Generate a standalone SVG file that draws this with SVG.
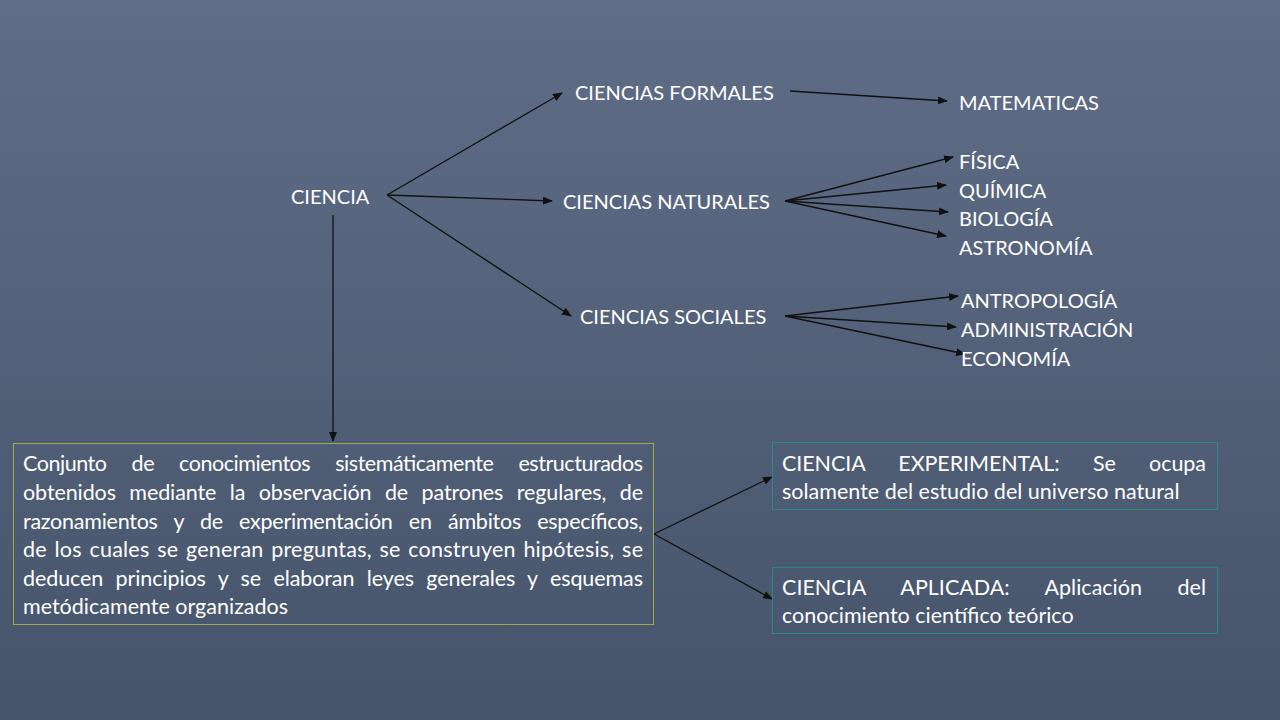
<svg xmlns="http://www.w3.org/2000/svg" width="1280" height="720" viewBox="0 0 1280 720">
<defs>
<linearGradient id="bg" x1="0" y1="0" x2="0" y2="1"><stop offset="0" stop-color="#5f6e86"/><stop offset="1" stop-color="#45536b"/></linearGradient>
<marker id="ah" markerWidth="10" markerHeight="8" refX="9" refY="4" orient="auto" markerUnits="userSpaceOnUse"><path d="M0,0 L10,4 L0,8 z" fill="#111"/></marker>
<style>
text{font-family:"Lato","Liberation Sans",sans-serif;font-size:20px;fill:#fff}
.b{font-size:21.5px}
.c line{stroke:#111;stroke-width:1.3;marker-end:url(#ah)}
</style>
</defs>
<rect width="1280" height="720" fill="url(#bg)"/>
<g class="c" id="connectors">
<line x1="387" y1="195" x2="562" y2="93"/>
<line x1="387" y1="195" x2="552" y2="201"/>
<line x1="387" y1="195" x2="571" y2="316"/>
<line x1="333" y1="215" x2="333" y2="441"/>
<line x1="790" y1="91" x2="947" y2="101"/>
<line x1="785" y1="201" x2="953" y2="157"/>
<line x1="785" y1="201" x2="946" y2="185"/>
<line x1="785" y1="201" x2="948" y2="212"/>
<line x1="785" y1="201" x2="946" y2="236"/>
<line x1="785" y1="316" x2="958" y2="296"/>
<line x1="785" y1="316" x2="956" y2="327"/>
<line x1="785" y1="316" x2="965" y2="354"/>
<line x1="654" y1="534" x2="772" y2="477"/>
<line x1="654" y1="534" x2="772" y2="599"/>
</g>
<g id="ciencia"><text x="291" y="204">CIENCIA</text></g>
<g id="formales"><text x="575" y="100">CIENCIAS FORMALES</text></g>
<g id="naturales"><text x="563" y="209">CIENCIAS NATURALES</text></g>
<g id="sociales"><text x="580" y="324">CIENCIAS SOCIALES</text></g>
<g id="matematicas"><text x="959" y="110">MATEMATICAS</text></g>
<g id="naturales-list"><text x="959" y="169">FÍSICA</text><text x="959" y="198">QUÍMICA</text><text x="959" y="226">BIOLOGÍA</text><text x="959" y="255">ASTRONOMÍA</text></g>
<g id="sociales-list"><text x="961" y="308">ANTROPOLOGÍA</text><text x="961" y="337">ADMINISTRACIÓN</text><text x="961" y="366">ECONOMÍA</text></g>
<g id="definicion">
<rect x="13.5" y="443.5" width="640" height="181" fill="none" stroke="#a0a64e" stroke-width="1"/>
<text x="23" y="471" class="b" word-spacing="20" textLength="620" lengthAdjust="spacing">Conjunto de conocimientos sistemáticamente estructurados</text>
<text x="23" y="500" class="b" word-spacing="8" textLength="620" lengthAdjust="spacing">obtenidos mediante la observación de patrones regulares, de</text>
<text x="23" y="529" class="b" word-spacing="11" textLength="620" lengthAdjust="spacing">razonamientos y de experimentación en ámbitos específicos,</text>
<text x="23" y="557" class="b" word-spacing="2" textLength="620" lengthAdjust="spacing">de los cuales se generan preguntas, se construyen hipótesis, se</text>
<text x="23" y="586" class="b" word-spacing="7" textLength="620" lengthAdjust="spacing">deducen principios y se elaboran leyes generales y esquemas</text>
<text x="23" y="614" class="b">metódicamente organizados</text>
</g>
<g id="experimental">
<rect x="772.5" y="442.5" width="445" height="67" fill="none" stroke="#2a8a8a" stroke-width="1"/>
<text x="782" y="471" class="b" word-spacing="28" textLength="424" lengthAdjust="spacing">CIENCIA EXPERIMENTAL: Se ocupa</text>
<text x="782" y="499" class="b">solamente del estudio del universo natural</text>
</g>
<g id="aplicada">
<rect x="772.5" y="567.5" width="445" height="66" fill="none" stroke="#2a8a8a" stroke-width="1"/>
<text x="782" y="595" class="b" word-spacing="30" textLength="424" lengthAdjust="spacing">CIENCIA APLICADA: Aplicación del</text>
<text x="782" y="623" class="b">conocimiento científico teórico</text>
</g>
</svg>
